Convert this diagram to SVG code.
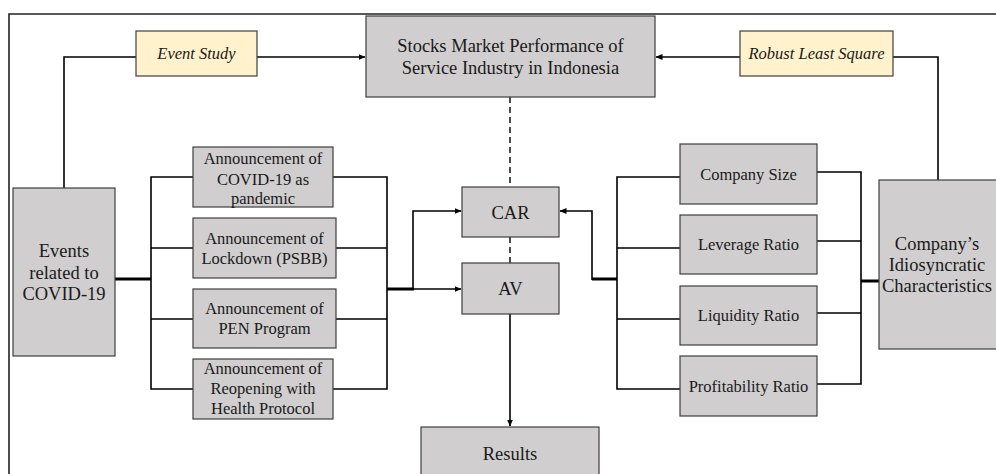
<svg xmlns="http://www.w3.org/2000/svg" width="996" height="474" viewBox="0 0 996 474">
<defs>
<marker id="arr" markerWidth="7" markerHeight="6" refX="6.5" refY="3" orient="auto" markerUnits="userSpaceOnUse">
<path d="M0,0 L7,3 L0,6 z" fill="#000"/>
</marker>
<style>
.box{fill:#d0cece;stroke:#3f3f3f;stroke-width:1.2}
.ybox{fill:#fff2cc;stroke:#3f3f3f;stroke-width:1.2}
.t{font-family:"Liberation Serif","Times New Roman",serif;font-size:16.5px;fill:#1a1a1a;text-anchor:middle}
.tb{font-family:"Liberation Serif","Times New Roman",serif;font-size:18.5px;fill:#1a1a1a;text-anchor:middle}
.ti{font-style:italic}
.c{fill:none;stroke:#000;stroke-width:1.6}
.k{fill:none;stroke:#000;stroke-width:3}
.d{fill:none;stroke:#000;stroke-width:1.4;stroke-dasharray:6,4}
</style>
</defs>
<rect width="996" height="474" fill="#fff"/>
<path d="M9,474 V14 H996" fill="none" stroke="#222" stroke-width="1.6"/>

<g id="connectors">
<path class="c" d="M64,188 V57 H136"/>
<path class="c" d="M257,57 H365" marker-end="url(#arr)"/>
<path class="c" d="M938,180 V57 H893"/>
<path class="c" d="M740,57 H656" marker-end="url(#arr)"/>
<path class="d" d="M510,97 V187"/>
<path class="d" d="M510,237 V263"/>
<path class="c" d="M510,314 V426" marker-end="url(#arr)"/>
<!-- left bus -->
<path class="k" d="M115,279 H151"/>
<path class="c" d="M193,177 H151 V389 H193"/>
<path class="c" d="M151,248 H193 M151,319 H193"/>
<path class="c" d="M333,177 H387 V389 H333"/>
<path class="c" d="M336,248 H387 M336,319 H387"/>
<path class="k" d="M387,289 H414"/>
<path class="c" d="M413,289 V211 H461" marker-end="url(#arr)"/>
<path class="c" d="M413,289 H461" marker-end="url(#arr)"/>
<!-- right bus -->
<path class="c" d="M680,177 H617 V389 H680"/>
<path class="c" d="M617,248 H680 M617,319 H680"/>
<path class="k" d="M617,279 H592"/>
<path class="c" d="M592,280 V211 H560" marker-end="url(#arr)"/>
<path class="c" d="M817,172 H861 V384 H817"/>
<path class="c" d="M817,241 H861 M817,313 H861"/>
<path class="k" d="M861,281 H879"/>
</g>

<g id="stocks">
<rect class="box" x="366" y="16" width="289" height="81"/>
<text class="tb" x="510.5" y="52">Stocks Market Performance of</text>
<text class="tb" x="510.5" y="74">Service Industry in Indonesia</text>
</g>
<g id="event-study">
<rect class="ybox" x="136" y="31" width="121" height="45"/>
<text class="t ti" x="196.5" y="59">Event Study</text>
</g>
<g id="robust">
<rect class="ybox" x="740" y="31" width="153" height="45"/>
<text class="t ti" x="816.5" y="59">Robust Least Square</text>
</g>
<g id="events">
<rect class="box" x="13" y="188" width="102" height="168"/>
<text class="tb" x="64" y="257">Events</text>
<text class="tb" x="64" y="279">related to</text>
<text class="tb" x="64" y="300">COVID-19</text>
</g>
<g id="ann1">
<rect class="box" x="193" y="147" width="140" height="60"/>
<text class="t" x="263" y="164">Announcement of</text>
<text class="t" x="263" y="185">COVID-19 as</text>
<text class="t" x="263" y="204">pandemic</text>
</g>
<g id="ann2">
<rect class="box" x="193" y="218" width="143" height="60"/>
<text class="t" x="264.5" y="244">Announcement of</text>
<text class="t" x="264.5" y="264">Lockdown (PSBB)</text>
</g>
<g id="ann3">
<rect class="box" x="193" y="289" width="143" height="59"/>
<text class="t" x="264.5" y="314">Announcement of</text>
<text class="t" x="264.5" y="334">PEN Program</text>
</g>
<g id="ann4">
<rect class="box" x="193" y="359" width="140" height="60"/>
<text class="t" x="263" y="374">Announcement of</text>
<text class="t" x="263" y="394">Reopening with</text>
<text class="t" x="263" y="414">Health Protocol</text>
</g>
<g id="car">
<rect class="box" x="462" y="187" width="97" height="50"/>
<text class="tb" x="510.5" y="219">CAR</text>
</g>
<g id="av">
<rect class="box" x="462" y="263" width="97" height="51"/>
<text class="tb" x="510.5" y="295">AV</text>
</g>
<g id="results">
<rect class="box" x="421" y="427" width="178" height="60"/>
<text class="tb" x="510" y="460">Results</text>
</g>
<g id="size">
<rect class="box" x="680" y="144" width="137" height="60"/>
<text class="t" x="748.5" y="180">Company Size</text>
</g>
<g id="leverage">
<rect class="box" x="680" y="215" width="137" height="59"/>
<text class="t" x="748.5" y="250">Leverage Ratio</text>
</g>
<g id="liquidity">
<rect class="box" x="680" y="286" width="137" height="59"/>
<text class="t" x="748.5" y="321">Liquidity Ratio</text>
</g>
<g id="profitability">
<rect class="box" x="680" y="356" width="137" height="60"/>
<text class="t" x="748.5" y="392">Profitability Ratio</text>
</g>
<g id="company">
<rect class="box" x="879" y="180" width="120" height="169"/>
<text class="tb" x="937" y="250">Company’s</text>
<text class="tb" x="937" y="271">Idiosyncratic</text>
<text class="tb" x="937" y="292">Characteristics</text>
</g>
</svg>
